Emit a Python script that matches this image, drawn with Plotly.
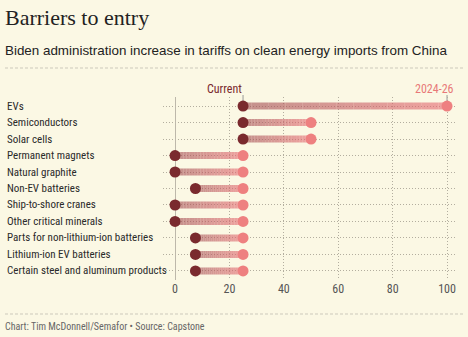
import plotly.graph_objects as go

categories = ["EVs", "Semiconductors", "Solar cells", "Permanent magnets", "Natural graphite",
              "Non-EV batteries", "Ship-to-shore cranes", "Other critical minerals",
              "Parts for non-lithium-ion batteries", "Lithium-ion EV batteries",
              "Certain steel and aluminum products"]
current = [25, 25, 25, 0, 0, 7.5, 0, 0, 7.5, 7.5, 7.5]
future = [100, 50, 50, 25, 25, 25, 25, 25, 25, 25, 25]
x_ticks = [0, 20, 40, 60, 80, 100]

W, H = 468, 337
BG = "#fbf8e4"
LINE_START = (159, 76, 81)
LINE_END = (233, 106, 114)
COND = "Roboto Condensed, Roboto, sans-serif"
GRID = "#b3ae9f"


def py(pix):
    return 1 - pix / H


fig = go.Figure()

# gradient connector lines
N = 24
for k in range(N):
    f0, f1 = k / N, (k + 1) / N
    t = (k + 0.5) / N
    r = LINE_START[0] + (LINE_END[0] - LINE_START[0]) * t
    g = LINE_START[1] + (LINE_END[1] - LINE_START[1]) * t
    b = LINE_START[2] + (LINE_END[2] - LINE_START[2]) * t
    xs, ys = [], []
    for c, s, e in zip(categories, current, future):
        xs += [s + (e - s) * f0, s + (e - s) * f1, None]
        ys += [c, c, None]
    fig.add_trace(go.Scatter(x=xs, y=ys, mode="lines",
                             line=dict(color=f"rgba({r:.0f},{g:.0f},{b:.0f},0.6)", width=7),
                             hoverinfo="skip", showlegend=False))

fig.add_trace(go.Scatter(x=future, y=categories, mode="markers",
                         marker=dict(size=11, color="rgb(238,128,128)"), showlegend=False))
fig.add_trace(go.Scatter(x=current, y=categories, mode="markers",
                         marker=dict(size=11, color="rgb(122,42,46)"), showlegend=False))

annotations = []
for c in categories:
    annotations.append(dict(x=5 / W, xref="paper", y=c, yref="y", text=c, showarrow=False,
                            xanchor="left", yanchor="middle",
                            font=dict(family=COND, size=11, color="#2a2a2a")))
annotations.append(dict(x=current[0], xref="x", y=py(89), yref="paper", text="Current",
                        showarrow=False, xanchor="right", yanchor="middle", xshift=1,
                        font=dict(family=COND, size=12, color="rgb(122,42,46)")))
annotations.append(dict(x=future[0], xref="x", y=py(89), yref="paper", text="2024-26",
                        showarrow=False, xanchor="right", yanchor="middle", xshift=9,
                        font=dict(family=COND, size=12, color="rgb(232,120,120)")))
annotations.append(dict(x=3 / W, xref="paper", y=py(18), yref="paper", yanchor="middle",
                        xanchor="left", text="Barriers to entry", showarrow=False,
                        font=dict(family="Liberation Serif, serif", size=22, color="#222")))
annotations.append(dict(x=3 / W, xref="paper", y=py(50), yref="paper", yanchor="middle",
                        xanchor="left", showarrow=False,
                        text="Biden administration increase in tariffs on clean energy imports from China",
                        font=dict(family="Liberation Sans, Arial, sans-serif", size=13.4, color="#222")))
annotations.append(dict(x=3 / W, xref="paper", y=py(326), yref="paper", yanchor="middle",
                        xanchor="left", showarrow=False,
                        text="Chart: Tim McDonnell/Semafor \u2022 Source: Capstone",
                        font=dict(family=COND, size=10, color="#666")))

fig.update_layout(
    width=W, height=H,
    margin=dict(l=0, r=0, t=0, b=0),
    paper_bgcolor=BG, plot_bgcolor=BG,
    annotations=annotations,
    xaxis=dict(range=[-4.5, 103], domain=[162.8 / W, 455.2 / W], tickvals=x_ticks,
               showgrid=True, gridcolor=GRID, griddash="1px,2px", gridwidth=1,
               zeroline=True, zerolinecolor="#bdb8aa", zerolinewidth=1, automargin=False,
               showline=False, ticks="", tickfont=dict(family=COND, size=12, color="#555")),
    yaxis=dict(categoryorder="array", categoryarray=categories, range=[10.55, -0.55],
               domain=[py(280), py(97)], automargin=False,
               showgrid=True, gridcolor=GRID, griddash="1px,2px", gridwidth=1,
               showticklabels=False, zeroline=False, ticks=""),
    shapes=[
        dict(type="line", xref="paper", yref="paper", x0=5 / W, x1=463 / W,
             y0=py(68), y1=py(68), line=dict(color="#ccc9bb", width=1, dash="3px,2px")),
        dict(type="line", xref="paper", yref="paper", x0=5 / W, x1=463 / W,
             y0=py(314), y1=py(314), line=dict(color="#ccc9bb", width=1, dash="3px,2px")),
        dict(type="line", xref="x", yref="paper", x0=current[0], x1=current[0],
             y0=py(95), y1=py(101), line=dict(color="#999", width=1), layer="below"),
        dict(type="line", xref="x", yref="paper", x0=future[0], x1=future[0],
             y0=py(95), y1=py(101), line=dict(color="#999", width=1), layer="below"),
    ],
)
fig.write_html("out.html")
